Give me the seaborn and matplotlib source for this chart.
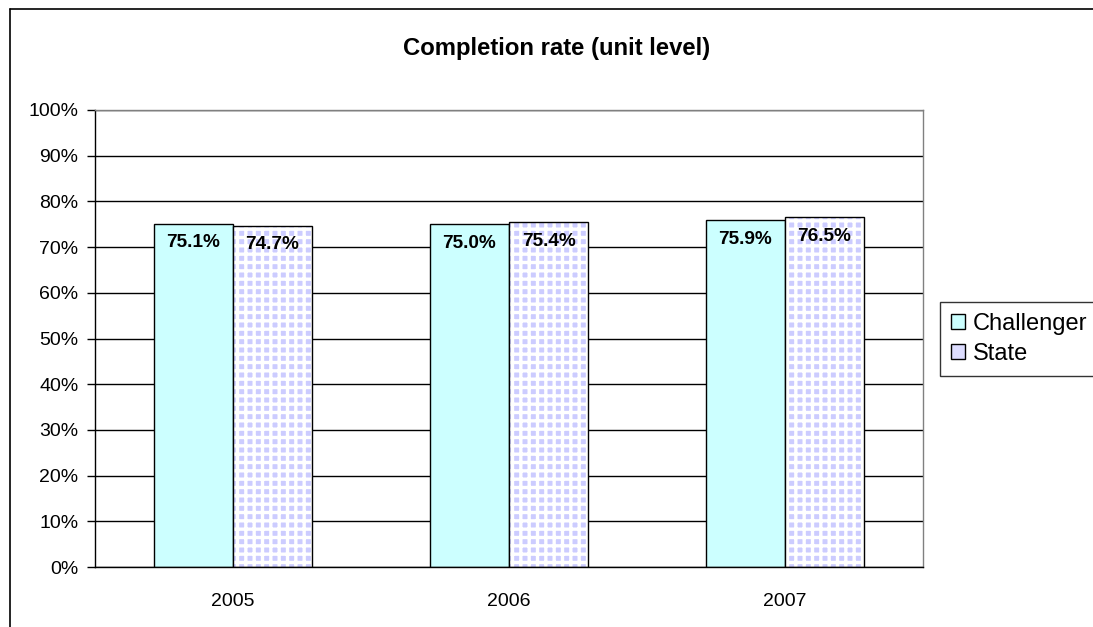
import matplotlib
matplotlib.use("Agg")
import matplotlib.pyplot as plt
import seaborn as sns
import pandas as pd
from matplotlib.patches import Rectangle, Patch
from matplotlib.lines import Line2D
from matplotlib.ticker import PercentFormatter, FixedLocator

years = ["2005", "2006", "2007"]
series = ["Challenger", "State"]
challenger = [0.751, 0.750, 0.759]
state = [0.747, 0.754, 0.765]
colors = {"Challenger": "#CCFFFF", "State": "#CCCCFF"}
title = "Completion rate (unit level)"

sns.set_style("white")
plt.rcParams["font.family"] = ["Liberation Sans", "DejaVu Sans"]
plt.rcParams["hatch.linewidth"] = 2.4
plt.rcParams["text.color"] = "black"
plt.rcParams["xtick.color"] = "black"
plt.rcParams["ytick.color"] = "black"

df = pd.DataFrame({
    "year": years * 2,
    "series": ["Challenger"] * 3 + ["State"] * 3,
    "value": challenger + state,
})

W, H = 1093, 627
fig = plt.figure(figsize=(W / 100, H / 100), dpi=100)
ax = fig.add_axes([95 / W, 1 - 567 / H, (923 - 95) / W, (567 - 110) / H])

sns.barplot(data=df, x="year", y="value", hue="series", palette=colors,
            width=0.573, gap=0, ax=ax, legend=False, errorbar=None,
            saturation=1, dodge=True)

ax.set_axisbelow(True)
n = len(years)
bars = [p for p in ax.patches if p.get_height() > 0]
for i, p in enumerate(bars):
    is_state = i >= n
    if is_state:
        p.set_hatch("++")
        p.set_edgecolor("white")
        p.set_linewidth(0)
        ax.add_patch(Rectangle((p.get_x(), p.get_y()), p.get_width(), p.get_height(),
                               fill=False, edgecolor="black", lw=1, zorder=p.get_zorder() + 0.1))
    else:
        p.set_edgecolor("black")
        p.set_linewidth(1)
    ax.annotate(f"{p.get_height() * 100:.1f}%",
                (p.get_x() + p.get_width() / 2, p.get_height()),
                xytext=(0, -19), textcoords="offset pixels",
                ha="center", va="center", fontsize=13.7, fontweight="bold",
                color="black", zorder=5)

ax.set_ylim(0, 1)
ax.set_xlim(-0.5, n - 0.5)
ax.yaxis.set_major_locator(FixedLocator([i / 10 for i in range(11)]))
ax.yaxis.set_major_formatter(PercentFormatter(1.0, decimals=0))
ax.yaxis.grid(True, color="black", lw=1)
ax.xaxis.grid(False)
ax.set_xlabel("")
ax.set_ylabel("")

ax.set_xticks(range(n))
ax.set_xticklabels(years)
ax.set_xticks([i - 0.5 for i in range(n + 1)], minor=True)
ax.tick_params(axis="x", which="major", length=0, pad=19, labelsize=14)
ax.tick_params(axis="x", which="minor", length=6, width=1, color="black", direction="out")
ax.tick_params(axis="y", which="major", length=6, width=1, color="black", direction="out",
               left=True, pad=6, labelsize=14)

for s in ["left", "bottom"]:
    ax.spines[s].set_color("black")
    ax.spines[s].set_linewidth(1)
for s in ["top", "right"]:
    ax.spines[s].set_visible(True)
    ax.spines[s].set_color("#808080")
    ax.spines[s].set_linewidth(1)

fig.text(557 / W, 1 - 48 / H, title, ha="center", va="center",
         fontsize=17.2, fontweight="bold", color="black")

handles = [Patch(facecolor=colors["Challenger"], edgecolor="black", lw=1),
           Patch(facecolor="#DDDDFF", edgecolor="black", lw=1)]
leg = fig.legend(handles, series, loc="center left",
                 bbox_to_anchor=(940 / W, 1 - 339 / H),
                 fontsize=17, frameon=True, fancybox=False, edgecolor="black",
                 handlelength=0.6, handleheight=0.6, handletextpad=0.35,
                 borderpad=0.45, labelspacing=0.35, borderaxespad=0)
leg.get_frame().set_linewidth(1)

fig.add_artist(Line2D([10 / W, 10 / W], [0, 1 - 9 / H], color="black", lw=1.2,
                      transform=fig.transFigure))
fig.add_artist(Line2D([10 / W, 1], [1 - 9 / H, 1 - 9 / H], color="black", lw=1.2,
                      transform=fig.transFigure))

fig.savefig("out.png", dpi=100)
